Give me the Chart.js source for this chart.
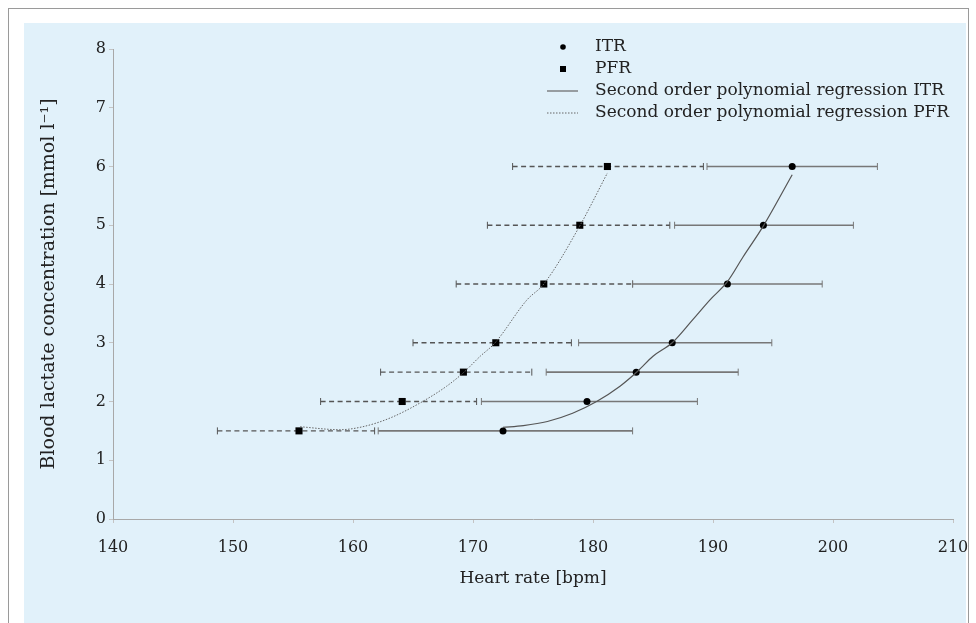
<!DOCTYPE html>
<html>
<head>
<meta charset="utf-8">
<script src="https://cdn.jsdelivr.net/npm/chart.js@4.4.0/dist/chart.umd.min.js"></script>
<style>
  html, body { margin: 0; padding: 0; background: #ffffff; overflow: hidden; }
  #frame { position: absolute; left: 8px; top: 8px; width: 959px; height: 700px; border: 1px solid #9a9a9a; }
  #panel { position: absolute; left: 24px; top: 23px; width: 942px; height: 600px; background: #e1f1fa; }
  #lactateChart { position: absolute; left: 24px; top: 23px; display: block; }
</style>
</head>
<body>
<div id="frame"></div>
<div id="panel"></div>
<canvas id="lactateChart" width="952" height="600"></canvas>
<script>
// Niveles de lactato (eje Y)
const lactateLevels = [1.5, 2, 2.5, 3, 4, 5, 6];

// ITR: medias y extremos de las barras de error (lpm)
const itrMean = [172.5, 179.5, 183.6, 186.6, 191.2, 194.2, 196.6];
const itrLow  = [162.1, 170.7, 176.1, 178.8, 183.3, 186.8, 189.5];
const itrHigh = [183.3, 188.7, 192.1, 194.9, 199.1, 201.7, 203.7];

// PFR: medias y extremos de las barras de error (lpm)
const pfrMean = [155.5, 164.1, 169.2, 171.9, 175.9, 178.9, 181.2];
const pfrLow  = [148.7, 157.3, 162.3, 165.0, 168.6, 171.2, 173.3];
const pfrHigh = [161.8, 170.3, 174.9, 178.2, 183.3, 186.4, 189.2];

// Curvas de regresion
const itrFitX = [172.5, 174.2, 176.2, 178.3, 180.3, 182.25, 183.7, 185.0, 186.6, 188.3, 189.75, 191.2, 192.5, 194.2, 196.6];
const itrFitY = [1.56, 1.59, 1.66, 1.80, 2.0, 2.26, 2.51, 2.77, 3.0, 3.39, 3.73, 4.04, 4.46, 4.99, 5.86];
const pfrFitX = [155.6, 158.9, 160.8, 163.1, 165.8, 167.8, 169.2, 170.6, 171.8, 174.5, 175.9, 178.9, 181.2];
const pfrFitY = [1.57, 1.52, 1.57, 1.72, 2.0, 2.26, 2.49, 2.77, 2.99, 3.73, 4.0, 4.99, 5.89];

// Ejes
const xTicks = [140, 150, 160, 170, 180, 190, 200, 210];
const yTicks = [0, 1, 2, 3, 4, 5, 6, 7, 8];

const FONT = 'DejaVu Serif';

const toPoints = (xs, ys) => xs.map((x, i) => ({ x: x, y: ys[i] }));

// Plugin para las barras de error horizontales
const errorBarPlugin = {
    id: 'errorBarPlugin',
    beforeDatasetsDraw(chart) {
        const ctx = chart.ctx;
        const xs = chart.scales.x;
        const ys = chart.scales.y;
        const drawBar = (lo, hi, y, dashed, color, width) => {
            const x1 = xs.getPixelForValue(lo);
            const x2 = xs.getPixelForValue(hi);
            const py = ys.getPixelForValue(y);
            ctx.save();
            ctx.strokeStyle = color;
            ctx.lineWidth = width;
            ctx.setLineDash(dashed ? [5, 3.5] : []);
            ctx.beginPath();
            ctx.moveTo(x1, py);
            ctx.lineTo(x2, py);
            ctx.stroke();
            ctx.setLineDash([]);
            ctx.lineWidth = 1;
            ctx.beginPath();
            ctx.moveTo(x1, py - 3.5); ctx.lineTo(x1, py + 3.5);
            ctx.moveTo(x2, py - 3.5); ctx.lineTo(x2, py + 3.5);
            ctx.stroke();
            ctx.restore();
        };
        lactateLevels.forEach((lv, i) => {
            drawBar(pfrLow[i], pfrHigh[i], lv, true, '#555555', 1.3);
            drawBar(itrLow[i], itrHigh[i], lv, false, '#777777', 1.6);
        });
    }
};

// Plugin para la leyenda dentro del area del grafico
const legendPlugin = {
    id: 'legendPlugin',
    afterDraw(chart) {
        const ctx = chart.ctx;
        const left = 523, textX = 571, rows = [24, 46, 68, 90];
        const labels = ['ITR', 'PFR', 'Second order polynomial regression ITR', 'Second order polynomial regression PFR'];
        ctx.save();
        ctx.fillStyle = '#000';
        ctx.beginPath();
        ctx.arc(left + 16, rows[0], 2.8, 0, Math.PI * 2);
        ctx.fill();
        ctx.fillRect(left + 13, rows[1] - 3, 6, 6);
        ctx.strokeStyle = '#666';
        ctx.lineWidth = 1.2;
        ctx.beginPath();
        ctx.moveTo(left, rows[2]); ctx.lineTo(left + 31, rows[2]);
        ctx.stroke();
        ctx.setLineDash([1.5, 1.5]);
        ctx.lineWidth = 1;
        ctx.beginPath();
        ctx.moveTo(left, rows[3]); ctx.lineTo(left + 31, rows[3]);
        ctx.stroke();
        ctx.setLineDash([]);
        ctx.font = '17px "' + FONT + '"';
        ctx.fillStyle = '#222';
        ctx.textBaseline = 'middle';
        labels.forEach((t, i) => ctx.fillText(t, textX, rows[i]));
        ctx.restore();
    }
};

const ctx = document.getElementById('lactateChart').getContext('2d');
new Chart(ctx, {
    type: 'scatter',
    data: {
        datasets: [{
            label: 'Second order polynomial regression ITR',
            data: toPoints(itrFitX, itrFitY),
            showLine: true,
            borderColor: '#555555',
            borderWidth: 1.2,
            pointRadius: 0,
            cubicInterpolationMode: 'monotone'
        }, {
            label: 'Second order polynomial regression PFR',
            data: toPoints(pfrFitX, pfrFitY),
            showLine: true,
            borderColor: '#666666',
            borderWidth: 1,
            borderDash: [1.5, 1.5],
            pointRadius: 0,
            cubicInterpolationMode: 'monotone'
        }, {
            label: 'ITR',
            data: toPoints(itrMean, lactateLevels),
            pointStyle: 'circle',
            pointRadius: 3.5,
            backgroundColor: '#000',
            borderColor: '#000',
            borderWidth: 0
        }, {
            label: 'PFR',
            data: toPoints(pfrMean, lactateLevels),
            pointStyle: 'rect',
            pointRadius: 5,
            backgroundColor: '#000',
            borderColor: '#000',
            borderWidth: 0
        }]
    },
    options: {
        responsive: false,
        animation: false,
        layout: { padding: { left: 0, top: 26, right: 23, bottom: 34 } },
        plugins: {
            legend: { display: false },
            tooltip: { enabled: false }
        },
        scales: {
            x: {
                type: 'linear',
                min: 140,
                max: 210,
                afterBuildTicks: s => { s.ticks = xTicks.map(v => ({ value: v })); },
                afterFit: s => { s.height = 70; s.paddingLeft = 0; s.paddingRight = 0; },
                border: { display: true, color: '#a8a8a8', width: 1 },
                grid: { drawOnChartArea: false, drawTicks: true, tickLength: 4, color: '#c4c4c4' },
                ticks: { color: '#222', font: { family: FONT, size: 16 }, padding: 15, maxRotation: 0 },
                title: { display: true, text: 'Heart rate [bpm]', color: '#222', font: { family: FONT, size: 17 }, padding: { top: 4, bottom: 0 } }
            },
            y: {
                type: 'linear',
                min: 0,
                max: 8,
                afterBuildTicks: s => { s.ticks = yTicks.map(v => ({ value: v })); },
                afterFit: s => { s.width = 89; s.paddingTop = 0; s.paddingBottom = 0; },
                border: { display: true, color: '#a8a8a8', width: 1 },
                grid: { drawOnChartArea: false, drawTicks: true, tickLength: 4, color: '#c4c4c4' },
                ticks: { color: '#222', font: { family: FONT, size: 16 }, padding: 3 },
                title: { display: true, text: 'Blood lactate concentration [mmol l⁻¹]', color: '#222', font: { family: FONT, size: 19 }, padding: { top: 14, bottom: 0 } }
            }
        }
    },
    plugins: [errorBarPlugin, legendPlugin]
});
</script>
</body>
</html>
